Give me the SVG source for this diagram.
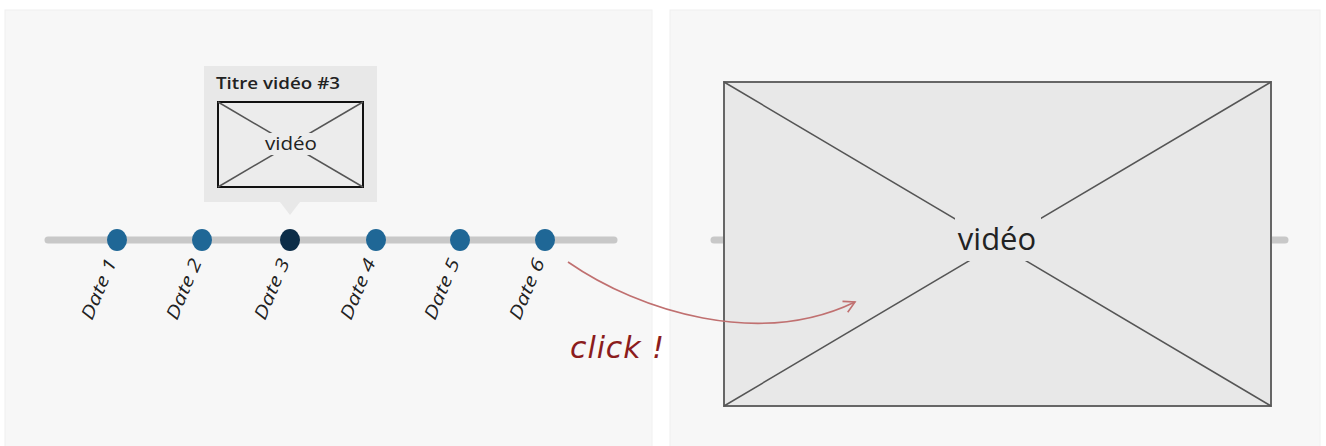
<svg xmlns="http://www.w3.org/2000/svg" width="1326" height="446" viewBox="0 0 1326 446">
<defs>
<style>
.panel{fill:#f7f7f7;stroke:#f0f0f0;stroke-width:1}
.track{stroke:#c8c8c8;stroke-width:7;stroke-linecap:round}
.dot{fill:#1f6796}
.dot.sel{fill:#0c2d48}
.date{font-family:"Open Sans","DejaVu Sans",sans-serif;font-style:italic;font-size:18px;fill:#222;text-anchor:end}
.vid{font-family:"Open Sans","DejaVu Sans",sans-serif;fill:#222;text-anchor:middle}
.diag{stroke:#555;stroke-width:1.5}
</style>
<marker id="chev" viewBox="0 0 14 14" refX="12" refY="7" markerWidth="14" markerHeight="14" markerUnits="userSpaceOnUse" orient="auto">
<path d="M1,1 L12,7 L1,13" fill="none" stroke="#c07070" stroke-width="1.6"/>
</marker>
</defs>
<rect width="1326" height="446" fill="#ffffff"/>
<g id="left-panel">
<rect class="panel" x="5" y="10" width="647" height="440"/>
</g>
<g id="right-panel">
<rect class="panel" x="670" y="10" width="650" height="440"/>
</g>
<g id="timeline">
<line class="track" x1="48" y1="240" x2="614" y2="240"/>
</g>
<g id="date1"><ellipse class="dot" cx="117" cy="240" rx="10" ry="11"/><text class="date" transform="translate(117,262) rotate(-67)" textLength="64" lengthAdjust="spacingAndGlyphs">Date 1</text></g>
<g id="date2"><ellipse class="dot" cx="202" cy="240" rx="10" ry="11"/><text class="date" transform="translate(202,262) rotate(-67)" textLength="64" lengthAdjust="spacingAndGlyphs">Date 2</text></g>
<g id="date3"><ellipse class="dot sel" cx="290" cy="240" rx="10" ry="11"/><text class="date" transform="translate(290,262) rotate(-67)" textLength="64" lengthAdjust="spacingAndGlyphs">Date 3</text></g>
<g id="date4"><ellipse class="dot" cx="376" cy="240" rx="10" ry="11"/><text class="date" transform="translate(376,262) rotate(-67)" textLength="64" lengthAdjust="spacingAndGlyphs">Date 4</text></g>
<g id="date5"><ellipse class="dot" cx="460" cy="240" rx="10" ry="11"/><text class="date" transform="translate(460,262) rotate(-67)" textLength="64" lengthAdjust="spacingAndGlyphs">Date 5</text></g>
<g id="date6"><ellipse class="dot" cx="545" cy="240" rx="10" ry="11"/><text class="date" transform="translate(545,262) rotate(-67)" textLength="64" lengthAdjust="spacingAndGlyphs">Date 6</text></g>
<g id="tooltip">
<rect x="204" y="66" width="173" height="136" fill="#e8e8e8"/>
<polygon points="280,202 300,202 290,215" fill="#e8e8e8"/>
<text x="216" y="89" font-family="'Open Sans','DejaVu Sans',sans-serif" font-weight="600" font-size="17" fill="#222" textLength="124" lengthAdjust="spacingAndGlyphs">Titre vidéo #3</text>
<rect x="218" y="102" width="145" height="85" fill="#ececec" stroke="#111" stroke-width="2"/>
<line class="diag" x1="218" y1="102" x2="363" y2="187" stroke="#222"/>
<line class="diag" x1="363" y1="102" x2="218" y2="187" stroke="#222"/>
<rect x="263" y="133" width="56" height="22" fill="#ececec"/>
<text class="vid" x="291" y="150" font-size="19" textLength="52" lengthAdjust="spacingAndGlyphs">vidéo</text>
</g>
<g id="right-timeline">
<line class="track" x1="714" y1="240" x2="1285" y2="240"/>
</g>
<g id="video">
<rect x="724" y="82" width="547" height="324" fill="#e8e8e8" stroke="#666" stroke-width="2"/>
<line class="diag" x1="724" y1="82" x2="1271" y2="406"/>
<line class="diag" x1="1271" y1="82" x2="724" y2="406"/>
<rect x="955" y="215" width="86" height="46" fill="#e8e8e8"/>
<text class="vid" x="997" y="250" font-size="31">vidéo</text>
</g>
<g id="connectors">
<path d="M568,262 C640,312 760,348 855,302" fill="none" stroke="#c07070" stroke-width="1.6" marker-end="url(#chev)"/>
</g>
<g id="click-label">
<text x="570" y="358" font-family="'DejaVu Sans','Liberation Sans',sans-serif" font-style="italic" font-size="30" fill="#8b1c1c" textLength="94" lengthAdjust="spacing">click !</text>
</g>
</svg>
